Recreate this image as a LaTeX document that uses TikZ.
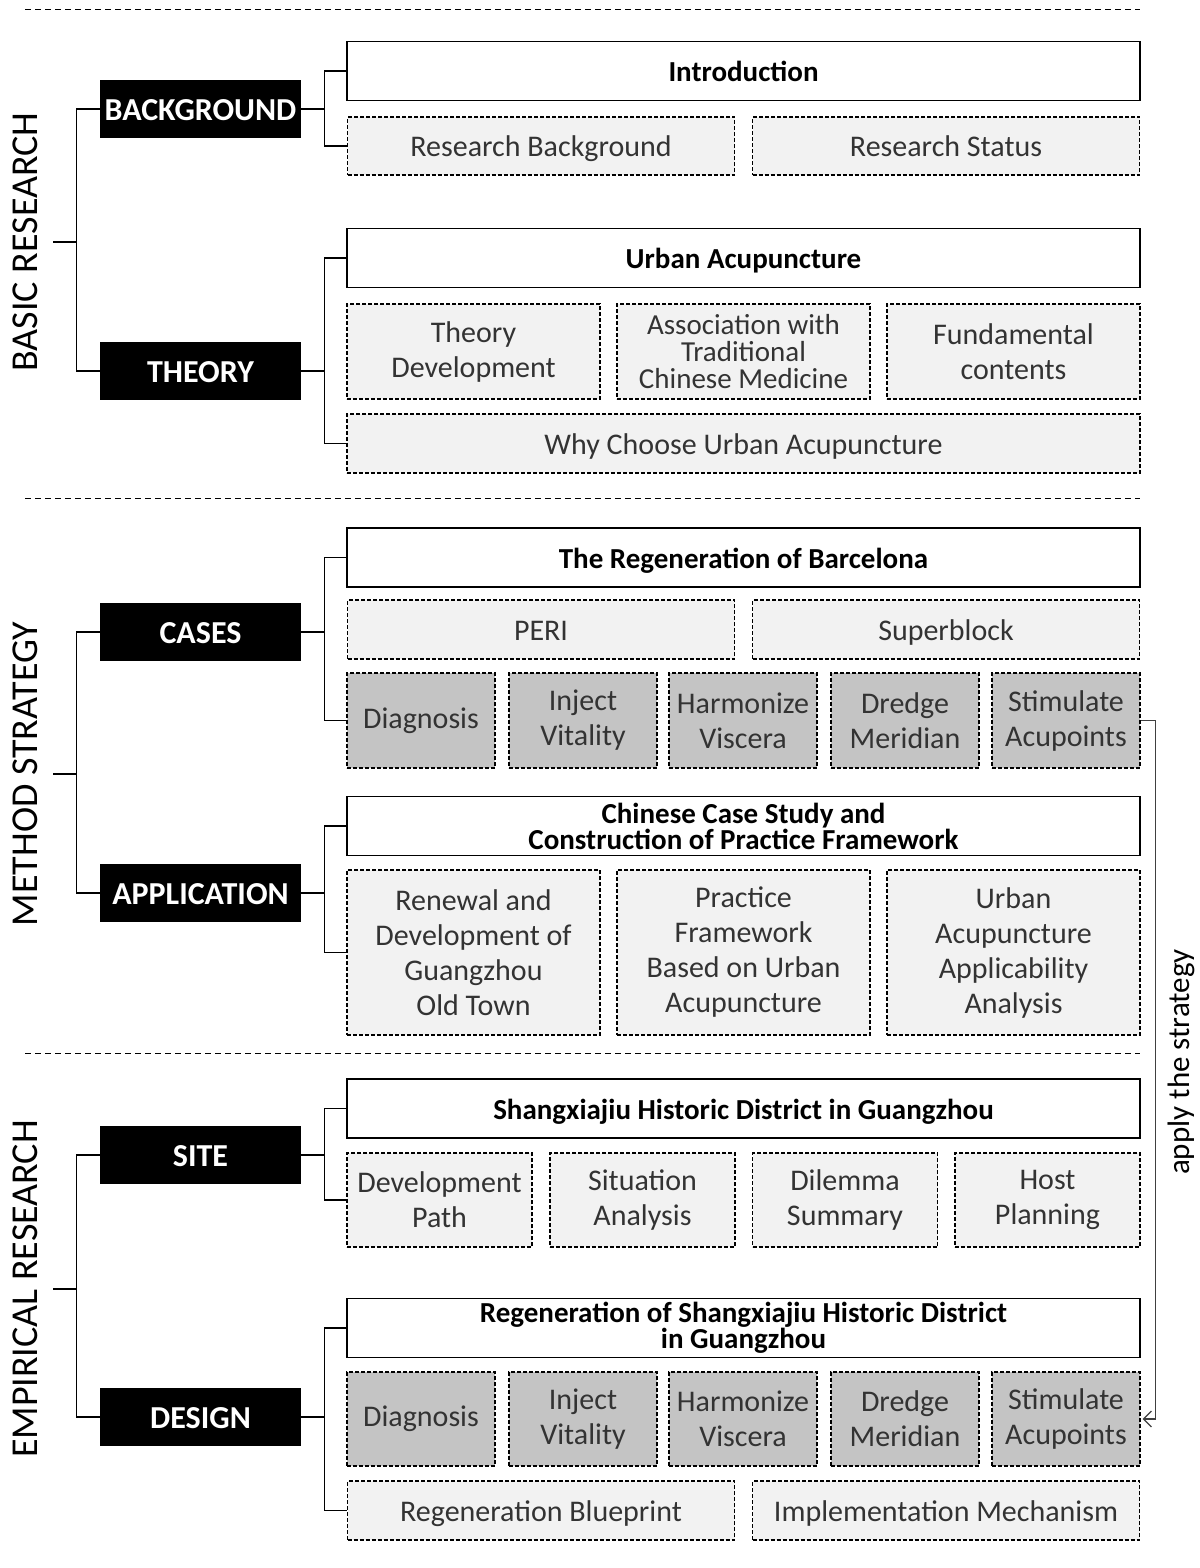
\documentclass[tikz,border=0pt]{standalone}
\usepackage{fontspec}
\setmainfont{Carlito}
\usetikzlibrary{arrows.meta}
\definecolor{lightfill}{HTML}{F2F2F2}
\definecolor{darkfill}{HTML}{C4C4C4}
\definecolor{textgray}{HTML}{333333}

\tikzset{
  sect/.style={rotate=90, font=\fontsize{19}{21}\selectfont},
  blackbox/.style={fill=black, text=white, minimum width=100.5pt, minimum height=29pt,
    inner sep=0pt, text height=11.5pt, text depth=0pt, font=\fontsize{16}{18}\selectfont\bfseries},
  headbox/.style={draw, line width=0.7pt, fill=white, minimum width=396.5pt, minimum height=29.5pt,
    inner sep=0pt, align=center, font=\fontsize{14.5}{13}\selectfont\bfseries},
  itembox/.style={draw, line width=0.6pt, dash pattern=on 2pt off 1pt, fill=lightfill,
    minimum height=29pt, inner sep=0pt, align=center, text=textgray,
    font=\fontsize{15}{17.5}\selectfont},
  oneline/.style={text height=12pt, text depth=1.5pt},
  keybox/.style={itembox, fill=darkfill, minimum width=74pt, minimum height=47.5pt},
  half/.style={minimum width=193.5pt},
  third/.style={minimum width=126.5pt},
  quarter/.style={minimum width=92.5pt},
  link/.style={line width=0.6pt},
  sep/.style={line width=0.5pt, dash pattern=on 3pt off 2pt}
}

\begin{document}
\begin{tikzpicture}[x=0.5pt,y=-0.5pt]
  \useasboundingbox (0,0) rectangle (1199,1568);

  % separators
  \draw[sep] (25,10) -- (1140,10);
  \draw[sep] (25,498) -- (1140,498);
  \draw[sep] (25,1053) -- (1140,1053);

  % part labels
  \node[sect] (basic) at (25,242) {BASIC RESEARCH};
  \node[sect] (method) at (25,774) {METHOD STRATEGY};
  \node[sect] (empir) at (25,1289) {EMPIRICAL RESEARCH};

  % black boxes
  \node[blackbox] (bg) at (200.5,109) {BACKGROUND};
  \node[blackbox] (th) at (200.5,371) {THEORY};
  \node[blackbox] (cs) at (200.5,632) {CASES};
  \node[blackbox] (ap) at (200.5,893) {APPLICATION};
  \node[blackbox] (st) at (200.5,1155) {SITE};
  \node[blackbox] (de) at (200.5,1417) {DESIGN};

  % background
  \node[headbox, oneline] (intro) at (743.5,71) {Introduction};
  \node[itembox, half, oneline] (rbg) at (541,146) {Research Background};
  \node[itembox, half, oneline] (rst) at (946,146) {Research Status};

  % theory
  \node[headbox, oneline] (ua) at (743.5,258) {Urban Acupuncture};
  \node[itembox, third, minimum height=47.5pt] (thd) at (473.5,351.5) {Theory\\Development};
  \node[itembox, third, minimum height=47.5pt, font=\fontsize{14.5}{13.5}\selectfont] (tcm) at (743.5,351.5) {Association with\\Traditional\\Chinese Medicine};
  \node[itembox, third, minimum height=47.5pt] (fun) at (1013.5,351.5) {Fundamental\\contents};
  \node[itembox, oneline, minimum width=396.5pt, minimum height=29.5pt] (why) at (743.5,443.5) {Why Choose Urban Acupuncture};

  % cases
  \node[headbox, oneline] (barc) at (743.5,557.5) {The Regeneration of Barcelona};
  \node[itembox, half, oneline, minimum height=29.5pt] (peri) at (541,629.5) {PERI};
  \node[itembox, half, oneline, minimum height=29.5pt] (sup) at (946,629.5) {Superblock};
  \node[keybox] (c1) at (421,720.5) {Diagnosis};
  \node[keybox] (c2) at (583,720.5) {Inject\\Vitality};
  \node[keybox] (c3) at (743,720.5) {Harmonize\\Viscera};
  \node[keybox] (c4) at (905,720.5) {Dredge\\Meridian};
  \node[keybox] (c5) at (1066,720.5) {Stimulate\\Acupoints};

  % application
  \node[headbox] (ccs) at (743.5,826) {Chinese Case Study and\\Construction of Practice Framework};
  \node[itembox, third, minimum height=82.5pt] (a1) at (473.5,952.5) {Renewal and\\Development of\\Guangzhou\\Old Town};
  \node[itembox, third, minimum height=82.5pt] (a2) at (743.5,952.5) {Practice\\Framework\\Based on Urban\\Acupuncture};
  \node[itembox, third, minimum height=82.5pt] (a3) at (1013.5,952.5) {Urban\\Acupuncture\\Applicability\\Analysis};

  % site
  \node[headbox, oneline] (shx) at (743.5,1108.5) {Shangxiajiu Historic District in Guangzhou};
  \node[itembox, quarter, minimum height=47pt] (s1) at (439.5,1200) {Development\\Path};
  \node[itembox, quarter, minimum height=47pt] (s2) at (642.5,1200) {Situation\\Analysis};
  \node[itembox, quarter, minimum height=47pt] (s3) at (845,1200) {Dilemma\\Summary};
  \node[itembox, quarter, minimum height=47pt] (s4) at (1047.5,1200) {Host\\Planning};

  % design
  \node[headbox] (regen) at (743.5,1328) {Regeneration of Shangxiajiu Historic District\\in Guangzhou};
  \node[keybox, minimum height=47pt] (d1) at (421,1419) {Diagnosis};
  \node[keybox, minimum height=47pt] (d2) at (583,1419) {Inject\\Vitality};
  \node[keybox, minimum height=47pt] (d3) at (743,1419) {Harmonize\\Viscera};
  \node[keybox, minimum height=47pt] (d4) at (905,1419) {Dredge\\Meridian};
  \node[keybox, minimum height=47pt] (d5) at (1066,1419) {Stimulate\\Acupoints};
  \node[itembox, half, oneline, minimum height=29.5pt] (blue) at (541,1510.5) {Regeneration Blueprint};
  \node[itembox, half, oneline, minimum height=29.5pt] (impl) at (946,1510.5) {Implementation Mechanism};

  % left brackets
  \draw[link] ([xshift=-11.5pt]bg.west |- basic) -- ++(-24,0);
  \draw[link] (bg.west) -- ++(-23,0) |- (th.west);
  \draw[link] ([xshift=-11.5pt]cs.west |- method) -- ++(-24,0);
  \draw[link] (cs.west) -- ++(-23,0) |- (ap.west);
  \draw[link] ([xshift=-11.5pt]st.west |- empir) -- ++(-24,0);
  \draw[link] (st.west) -- ++(-23,0) |- (de.west);

  % right brackets
  \draw[link] (bg.east) -- ++(24,0);
  \draw[link] (intro.west) -- ++(-22,0) |- (rbg.west);
  \draw[link] (th.east) -- ++(24,0);
  \draw[link] (ua.west) -- ++(-22,0) |- (why.west);
  \draw[link] (cs.east) -- ++(24,0);
  \draw[link] (barc.west) -- ++(-22,0) |- (c1.west);
  \draw[link] (ap.east) -- ++(24,0);
  \draw[link] (ccs.west) -- ++(-22,0) |- (a1.west);
  \draw[link] (st.east) -- ++(24,0);
  \draw[link] (shx.west) -- ++(-22,0) |- (s1.west);
  \draw[link] (de.east) -- ++(24,0);
  \draw[link] (regen.west) -- ++(-22,0) |- (blue.west);

  % apply arrow
  \node[rotate=90, font=\fontsize{15.5}{17}\selectfont] (apply) at (1181,1062) {apply the strategy};
  \draw[link, black!75, -{Straight Barb[length=4pt,width=8pt]}] (c5.east) -- ++(15,0) |- ([xshift=1pt]d5.east);
\end{tikzpicture}
\end{document}
